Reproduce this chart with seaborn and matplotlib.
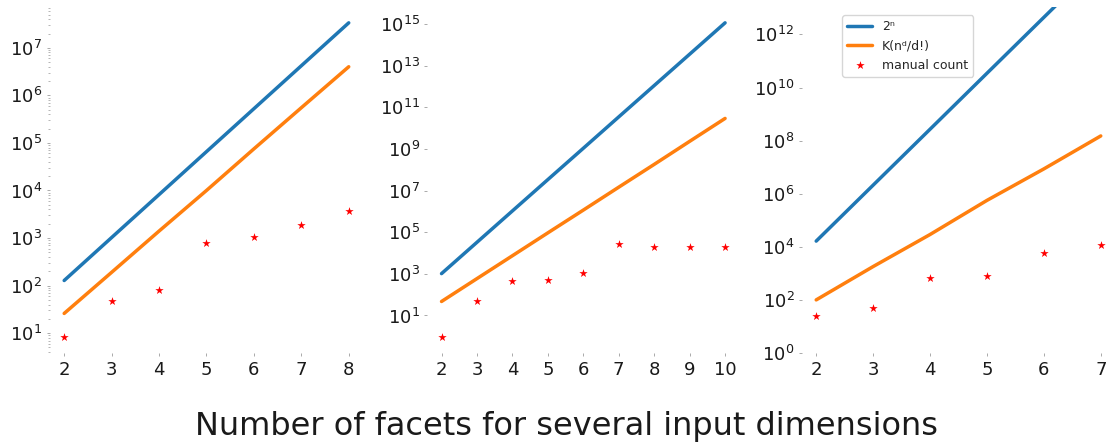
import numpy as np
import matplotlib
matplotlib.use('Agg')
import matplotlib.pyplot as plt
import matplotlib.ticker as mticker
import seaborn as sns

# ---------------------------------------------------------
# data
# ---------------------------------------------------------
x1 = [2, 3, 4, 5, 6, 7, 8]
pow2_1 = [128, 1024, 8192, 65536, 524288, 4194304, 33554432]
bound_1 = [26, 190, 1400, 1.0e4, 7.5e4, 5.5e5, 4.0e6]
manual_1 = [8.2, 48, 79, 770, 1050, 1860, 3700]

x2 = [2, 3, 4, 5, 6, 7, 8, 9, 10]
pow2_2 = [1024, 32768, 1.05e6, 3.36e7, 1.07e9, 3.44e10, 1.1e12, 3.52e13, 1.13e15]
bound_2 = [47, 590, 7400, 9.3e4, 1.15e6, 1.45e7, 1.8e8, 2.3e9, 2.9e10]
manual_2 = [0.9, 52, 460, 490, 1070, 2.7e4, 2.0e4, 1.9e4, 1.9e4]

x3 = [2, 3, 4, 5, 6, 7]
pow2_3 = [16384, 2097152, 2.68e8, 3.44e10, 4.4e12, 5.6e14]
bound_3 = [100, 1800, 2.9e4, 5.6e5, 8.6e6, 1.5e8]
manual_3 = [25, 49, 650, 770, 6000, 1.2e4]

legend_labels = ['2ⁿ', 'K(nᵈ/d!)', 'manual count']
xlabel = 'Number of facets for several input dimensions'

# ---------------------------------------------------------
# style
# ---------------------------------------------------------
sns.set_style('white')
plt.rcParams['font.family'] = ['DejaVu Sans']
plt.rcParams['mathtext.fontset'] = 'dejavusans'

fig = plt.figure(figsize=(11.1, 4.44), dpi=100)
ax1 = fig.add_axes([0.045, 0.205, 0.282, 0.779])
ax2 = fig.add_axes([0.385, 0.205, 0.281, 0.779])
ax3 = fig.add_axes([0.7225, 0.205, 0.282, 0.779])

panels = [
    (ax1, x1, pow2_1, bound_1, manual_1),
    (ax2, x2, pow2_2, bound_2, manual_2),
    (ax3, x3, pow2_3, bound_3, manual_3),
]

for ax, xs, p2, bd, mc in panels:
    sns.lineplot(x=xs, y=p2, ax=ax, color='#1f77b4', linewidth=2.5, label=legend_labels[0])
    sns.lineplot(x=xs, y=bd, ax=ax, color='#ff7f0e', linewidth=2.5, label=legend_labels[1])
    sns.scatterplot(x=xs, y=mc, ax=ax, color='red', marker='*', s=40, linewidth=0,
                    label=legend_labels[2])
    ax.set_yscale('log')
    ax.set_xticks(xs)
    sns.despine(ax=ax, left=True, bottom=True)
    ax.tick_params(axis='both', which='both', bottom=True, left=True, labelsize=13,
                   colors='#aaaaaa', labelcolor='#1a1a1a', length=2, width=0.7)
    ax.tick_params(axis='both', which='minor', length=1.5, width=0.6)
    ax.set_facecolor('white')

# y axis ticks
ax1.yaxis.set_major_locator(mticker.FixedLocator([10.0 ** k for k in range(1, 8)]))
ax2.set_yticks([10.0 ** k for k in range(1, 16, 2)])
ax2.yaxis.set_minor_locator(mticker.NullLocator())
ax3.set_ylim(1, 1.07e13)
ax3.set_yticks([10.0 ** k for k in range(0, 13, 2)])
ax3.yaxis.set_minor_locator(mticker.NullLocator())
ax3.set_ylim(1, 1.07e13)

ax1.get_legend().remove()
ax2.get_legend().remove()
ax3.legend(loc='upper left', bbox_to_anchor=(0.128, 0.977), borderaxespad=0,
           fontsize=9, frameon=True, scatterpoints=1)

fig.text(0.51, 0.04, xlabel, ha='center', va='center', fontsize=23, color='#1a1a1a')

fig.savefig('out.png', dpi=100)
